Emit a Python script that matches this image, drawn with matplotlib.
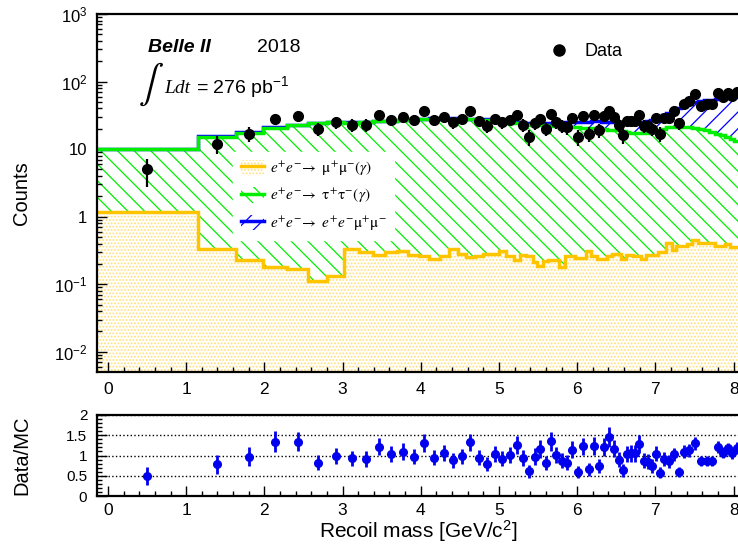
"""
Recoil mass distribution with stacked MC and Data/MC ratio panel.
"""

import numpy as np
import matplotlib
matplotlib.use("Agg")
import matplotlib.pyplot as plt
from matplotlib.font_manager import FontProperties
from matplotlib.lines import Line2D
from matplotlib.patches import Patch
from matplotlib.ticker import FixedLocator, LogLocator, MultipleLocator, NullFormatter

plt.rcParams["font.family"] = "Liberation Sans"
plt.rcParams["mathtext.fontset"] = "custom"
plt.rcParams["mathtext.rm"] = "Liberation Sans"
plt.rcParams["mathtext.it"] = "Liberation Sans:italic"
plt.rcParams["mathtext.bf"] = "Liberation Sans:bold"
plt.rcParams["hatch.linewidth"] = 0.9

# bin edges in recoil mass [GeV/c^2]
edges = [-0.14, 1.15, 1.64, 1.98, 2.29, 2.56, 2.80, 3.02, 3.21, 3.39,
         3.54, 3.70, 3.84, 3.98, 4.11, 4.24, 4.36, 4.47, 4.58, 4.69,
         4.80, 4.90, 5.00, 5.09, 5.19, 5.27, 5.35, 5.43, 5.49, 5.56,
         5.63, 5.70, 5.77, 5.84, 5.90, 5.97, 6.04, 6.11, 6.18, 6.25,
         6.31, 6.38, 6.44, 6.50, 6.56, 6.62, 6.66, 6.72, 6.77, 6.82,
         6.88, 6.93, 6.98, 7.03, 7.09, 7.14, 7.21, 7.27, 7.33, 7.40,
         7.47, 7.55, 7.62, 7.69, 7.76, 7.83, 7.89, 7.96, 8.01, 8.07]

# ee -> mumu(gamma)
mumu = [1.19, 0.334, 0.23, 0.177, 0.167, 0.112, 0.13, 0.33, 0.30, 0.268,
        0.30, 0.31, 0.274, 0.262, 0.233, 0.263, 0.33, 0.28, 0.255, 0.262,
        0.28, 0.28, 0.31, 0.263, 0.23, 0.274, 0.26, 0.215, 0.185, 0.22,
        0.23, 0.23, 0.18, 0.263, 0.263, 0.245, 0.245, 0.31, 0.263, 0.235,
        0.235, 0.263, 0.28, 0.28, 0.24, 0.275, 0.275, 0.263, 0.263, 0.233,
        0.27, 0.27, 0.27, 0.30, 0.30, 0.41, 0.32, 0.37, 0.37, 0.40,
        0.45, 0.41, 0.41, 0.41, 0.37, 0.37, 0.40, 0.36, 0.36]

# ee -> tautau(gamma)
tautau = [8.8, 15.0, 17.3, 20.6, 22.8, 24.1, 24.9, 24.3, 24.7, 25.7,
          25.7, 26.7, 27.2, 27.7, 27.8, 27.7, 27.7, 27.7, 27.2, 26.7,
          26.7, 26.2, 26.0, 25.2, 24.3, 23.2, 22.7, 22.8, 22.3, 22.3,
          21.8, 21.8, 21.8, 21.7, 21.2, 20.8, 20.3, 20.1, 20.1, 19.8,
          19.3, 18.9, 18.9, 18.7, 18.3, 17.7, 17.2, 16.9, 16.9, 17.0,
          17.2, 17.7, 18.2, 19.2, 19.7, 20.6, 21.2, 21.1, 21.1, 20.6,
          20.0, 19.6, 18.6, 17.6, 16.6, 15.6, 14.6, 13.6, 12.6]

# ee -> ee mumu
eemumu = [0.05, 0.07, 0.1, 0.12, 0.15, 0.15, 0.17, 0.2, 0.22, 0.25,
          0.27, 0.3, 0.32, 0.35, 0.37, 0.4, 0.42, 0.45, 0.5, 0.55,
          0.6, 0.7, 0.8, 0.9, 1.0, 1.2, 1.4, 1.6, 1.8, 2.0,
          2.4, 2.8, 3.2, 3.6, 4.0, 4.4, 4.8, 5.2, 5.5, 5.8,
          6.0, 6.2, 6.4, 6.6, 6.8, 7.0, 7.3, 7.6, 7.9, 8.2,
          8.5, 8.8, 9.2, 10.0, 12.0, 13.0, 14.5, 18.5, 21.5, 25.0,
          29.5, 31.0, 34.0, 36.0, 38.0, 40.0, 42.0, 44.0, 47.0]

data_counts = [5, 12, 17, 28, 31, 20, 25, 23, 23, 32,
               27, 30, 27, 37, 27, 30, 25, 28, 37, 26,
               22, 28, 25, 27, 32, 23, 15, 24, 28, 20,
               33, 25, 22, 21, 29, 15, 31, 17, 32, 19,
               31, 37, 30, 23, 16, 26, 26, 26, 32, 22,
               22, 20, 29, 17, 29, 29, 37, 24, 47, 52,
               65, 44, 46, 47, 67, 60, 67, 61, 71]

y_ticks = [1e-2, 1e-1, 1, 10, 1e2, 1e3]
y_ticklabels = ["$10^{-2}$", "$10^{-1}$", "1", "10", "$10^{2}$", "$10^{3}$"]

C_MUMU = "#ffc400"
C_MUMU_DOTS = "#ffe07a"
C_TAU = "#00ee00"
C_EEMM = "#0000ff"

W, H = 738, 552


def box(x0, y0, x1, y1):
    """pixel box (top-left origin) -> figure fraction rect"""
    return [x0 / W, 1 - y1 / H, (x1 - x0) / W, (y1 - y0) / H]


fig = plt.figure(figsize=(W / 100, H / 100), dpi=100)
ax = fig.add_axes(box(97, 14, 745, 372))
rax = fig.add_axes(box(97, 415, 745, 496))

e = np.array(edges)
centers = 0.5 * (e[1:] + e[:-1])
lvl1 = np.array(mumu)
lvl2 = lvl1 + np.array(tautau)
lvl3 = lvl2 + np.array(eemumu)
n = np.array(data_counts, dtype=float)

# stacked MC fills
ax.stairs(lvl1, e, baseline=1e-4, fill=True, facecolor="white",
          edgecolor=C_MUMU_DOTS, hatch=".....", lw=0, zorder=1)
ax.stairs(lvl2, e, baseline=lvl1, fill=True, facecolor="none",
          edgecolor=C_TAU, hatch="\\\\", lw=0, zorder=1)
ax.stairs(lvl3, e, baseline=lvl2, fill=True, facecolor="none",
          edgecolor=C_EEMM, hatch="//", lw=0, zorder=1)
# outlines
ax.stairs(lvl3, e, baseline=None, color=C_EEMM, lw=2.5, zorder=2)
ax.stairs(lvl2, e, baseline=None, color=C_TAU, lw=2.5, zorder=2)
ax.stairs(lvl1, e, baseline=None, color=C_MUMU, lw=2.5, zorder=2)

ax.errorbar(centers, n, yerr=np.sqrt(n), fmt="o", color="black", ms=7,
            elinewidth=1.6, capsize=0, zorder=5)

ax.set_yscale("log")
ax.set_ylim(10 ** -2.3, 1e3)
ax.set_xlim(-0.14, 8.146)
ax.yaxis.set_major_locator(FixedLocator(y_ticks))
ax.set_yticklabels(y_ticklabels)
ax.yaxis.set_minor_locator(LogLocator(base=10, subs=np.arange(2, 10), numticks=20))
ax.yaxis.set_minor_formatter(NullFormatter())

# ratio panel
mc = lvl3
rax.errorbar(centers, n / mc, yerr=np.sqrt(n) / mc, fmt="o", color="#0000ee",
             ms=5.5, elinewidth=2, capsize=0, zorder=5)
rax.set_xlim(-0.14, 8.146)
rax.set_ylim(0, 2)
rax.yaxis.set_major_locator(FixedLocator([0, 0.5, 1, 1.5, 2]))
rax.set_yticklabels(["0", "0.5", "1", "1.5", "2"])
rax.yaxis.set_minor_locator(MultipleLocator(0.1))
rax.yaxis.grid(True, ls=":", color="black", lw=1)

for a in (ax, rax):
    a.xaxis.set_major_locator(MultipleLocator(1))
    a.xaxis.set_minor_locator(MultipleLocator(0.2))
    a.tick_params(which="major", direction="in", length=7, width=1,
                  top=False, right=False)
    a.tick_params(which="minor", direction="in", length=3.5, width=1,
                  top=False, right=False)
    a.tick_params(axis="x", labelsize=12.5, pad=7)
    a.tick_params(axis="y", pad=7)
    for s in a.spines.values():
        s.set_linewidth(1.6)
ax.tick_params(axis="y", labelsize=12)
rax.tick_params(axis="y", labelsize=11)
rax.tick_params(axis="x", pad=5)

# legends
data_handle = Line2D([], [], ls="none", marker="o", color="black", ms=8)
leg1 = ax.legend([data_handle], ["Data"], loc="center left",
                 bbox_to_anchor=(548 / W, 1 - 52 / H),
                 bbox_transform=fig.transFigure, frameon=False, fontsize=13,
                 handlelength=1.2, handletextpad=0.8, borderpad=0,
                 borderaxespad=0)
ax.add_artist(leg1)

mc_handles = [
    (Patch(facecolor="white", edgecolor=C_MUMU_DOTS, hatch=".....", lw=0),
     Line2D([], [], color=C_MUMU, lw=2.5)),
    (Patch(facecolor="none", edgecolor=C_TAU, hatch="\\\\", lw=0),
     Line2D([], [], color=C_TAU, lw=2.5)),
    (Patch(facecolor="none", edgecolor=C_EEMM, hatch="//", lw=0),
     Line2D([], [], color=C_EEMM, lw=2.5)),
]
mc_labels = [
    r"$e^{+}e^{-}\!\rightarrow\ \mathrm{\mu}^{+}\mathrm{\mu}^{-}(\gamma)$",
    r"$e^{+}e^{-}\!\rightarrow\ \mathrm{\tau}^{+}\mathrm{\tau}^{-}(\gamma)$",
    r"$e^{+}e^{-}\!\rightarrow\ e^{+}e^{-}\mathrm{\mu}^{+}\mathrm{\mu}^{-}$",
]
leg2 = ax.legend(mc_handles, mc_labels, loc="upper left",
                 bbox_to_anchor=(233 / W, 1 - 152 / H),
                 bbox_transform=fig.transFigure,
                 prop=FontProperties(size=11, math_fontfamily="stix"),
                 frameon=True, fancybox=False, edgecolor="white",
                 facecolor="white", framealpha=1, handlelength=1.55,
                 handleheight=1.2, labelspacing=0.6, borderpad=0.5,
                 borderaxespad=0, handletextpad=0.35)
leg2.set_zorder(10)

# labels
fig.text(148 / W, 1 - 52 / H, "Belle II", fontsize=14, fontweight="bold",
         fontstyle="italic", va="baseline")
fig.text(257 / W, 1 - 52 / H, "2018", fontsize=14, va="baseline")
fig.text(151 / W, 1 - 84 / H, r"$\int$", fontsize=27, math_fontfamily="stix",
         ha="center", va="center")
fig.text(164 / W, 1 - 93 / H, "Ldt", family="Liberation Serif",
         style="italic", fontsize=14, va="baseline")
fig.text(196 / W, 1 - 93 / H, "= 276 pb$^{-1}$", fontsize=14, va="baseline")

fig.text(22 / W, 1 - 193 / H, "Counts", rotation=90, fontsize=14.5,
         ha="center", va="center")
fig.text(22 / W, 1 - 455 / H, "Data/MC", rotation=90, fontsize=14.5,
         ha="center", va="center")
fig.text(418 / W, 1 - 531 / H, "Recoil mass [GeV/c$^{2}$]", fontsize=15,
         ha="center", va="center")

fig.savefig("out.png", dpi=100)
plt.close(fig)
